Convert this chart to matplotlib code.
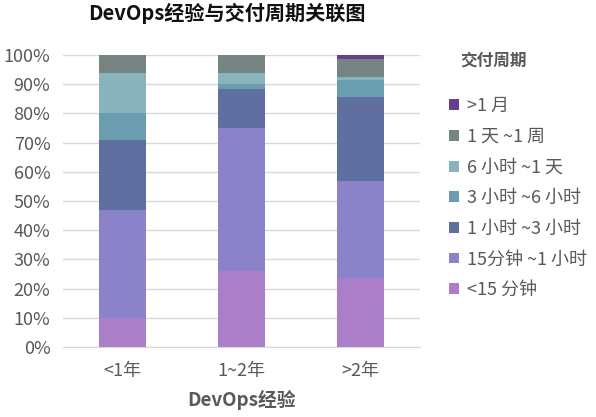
import matplotlib
matplotlib.use("Agg")
import matplotlib.pyplot as plt
import numpy as np
from matplotlib.patches import Patch
from matplotlib.ticker import FuncFormatter

plt.rcParams['font.family'] = ['Noto Sans CJK SC', 'DejaVu Sans']

categories = ["<1年", "1~2年", ">2年"]
series_names = ["<15 分钟", "15分钟 ~1 小时", "1 小时 ~3 小时", "3 小时 ~6 小时",
                "6 小时 ~1 天", "1 天 ~1 周", ">1 月"]
lt15m = [10, 26, 23.5]
m15_1h = [37, 49, 33.5]
h1_3 = [24, 13.5, 28.5]
h3_6 = [9, 1.5, 6]
h6_1d = [14, 4, 1]
d1_1w = [6, 6, 6]
gt1mo = [0, 0, 1.5]
colors = ["#aa7ec8", "#8a83c9", "#5f6fa0", "#6a9db0", "#8ab4bc", "#768583", "#6b3d8f"]

data = [lt15m, m15_1h, h1_3, h3_6, h6_1d, d1_1w, gt1mo]

fig = plt.figure(figsize=(5.96, 4.17), dpi=100)
ax = fig.add_axes([63/596, 1 - 347/417, (420 - 63)/596, (347 - 55)/417])

x = np.arange(len(categories))
bottom = np.zeros(len(categories))
for vals, name, c in zip(data, series_names, colors):
    v = np.array(vals, dtype=float) / 100.0
    ax.bar(x, v, bottom=bottom, width=0.395, color=c, label=name, zorder=3)
    bottom += v

ax.set_xlim(-0.5, 2.5)
ax.set_ylim(0, 1.0)
ax.set_yticks(np.linspace(0, 1, 11))
ax.yaxis.set_major_formatter(FuncFormatter(lambda v, p: f"{v*100:.0f}%"))
ax.grid(axis='y', color='#d9d9d9', linewidth=1, zorder=0)
ax.set_xticks(x)
ax.set_xticklabels(categories)
for s in ['top', 'right', 'left']:
    ax.spines[s].set_visible(False)
ax.spines['bottom'].set_color('#d9d9d9')
ax.tick_params(axis='both', length=0, colors='#595959', labelsize=13)
ax.tick_params(axis='x', pad=11)
ax.tick_params(axis='y', pad=9)
ax.set_xlabel("DevOps经验", fontsize=13.5, fontweight='bold', color='#595959', labelpad=7)

fig.text(227/596, 1 - 13/417, "DevOps经验与交付周期关联图", ha='center', va='center',
         fontsize=14.5, fontweight='bold', color='#111111')

fig.text(460/596, 1 - 60/417, "交付周期", ha='left', va='center',
         fontsize=12, fontweight='bold', color='#595959')

handles = [Patch(facecolor=c, edgecolor='none') for c in colors][::-1]
labels = series_names[::-1]
leg = fig.legend(handles, labels, loc='upper left', bbox_to_anchor=(433/596, 1 - 81/417),
                 frameon=False, fontsize=13, handlelength=0.55, handleheight=0.55,
                 handletextpad=0.45, labelspacing=0.70)
for t in leg.get_texts():
    t.set_color('#595959')

fig.savefig("out.png", dpi=100)
